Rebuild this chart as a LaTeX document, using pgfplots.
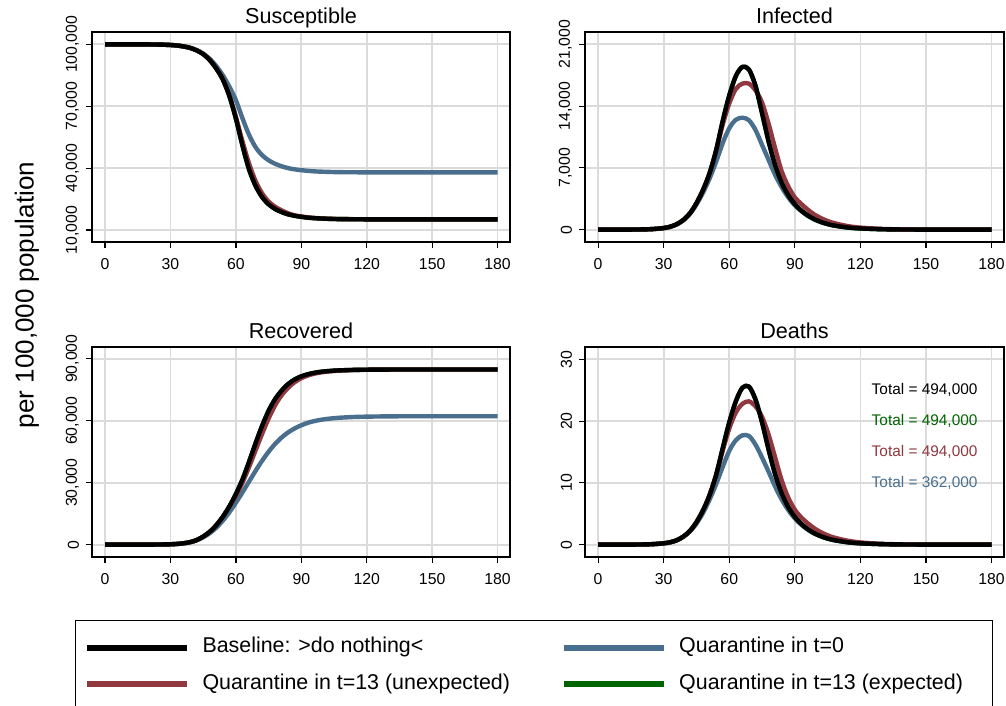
\documentclass[border=0pt]{standalone}
\usepackage{pgfplots}
\usepackage{pgfplotstable}
\pgfplotsset{compat=1.18}
\usepackage{fontspec}
\setmainfont{Liberation Sans}

\definecolor{qblue}{RGB}{74,110,142}
\definecolor{qred}{RGB}{144,56,62}
\definecolor{qgreen}{RGB}{0,100,0}

% t, baseline, quarantine t=13 (unexpected), quarantine t=0
\pgfplotstableread{
t base uq qz
0 100000 100000 100000
5 99998 99998 99998
10 99995 99995 99995
15 99990 99990 99990
20 99970 99970 99970
25 99900 99900 99900
30 99700 99700 99700
33 99450 99450 99450
36 99000 99000 99000
39 98300 98300 98350
42 97100 97100 97200
45 95300 95300 95500
48 92400 92400 93000
51 88300 88300 89500
54 83000 83000 85000
57 75000 75200 79500
60 64000 64800 72900
63 51000 53000 64200
66 39500 42300 56200
69 31500 33800 50200
72 26000 27800 46300
75 22500 23800 43800
78 20200 21300 42100
81 18700 19500 40900
84 17600 18100 40000
87 16900 17100 39400
90 16400 16550 39000
93 16000 16150 38700
96 15750 15850 38450
99 15600 15650 38300
102 15450 15500 38200
105 15350 15400 38100
108 15300 15330 38050
114 15230 15250 38000
120 15200 15210 37970
130 15170 15180 37950
140 15160 15160 37950
150 15150 15150 37950
160 15150 15150 37950
170 15150 15150 37950
180 15150 15150 37950
}\tabS

\pgfplotstableread{
t base uq qz
0 1 1 1
5 2 2 2
10 4 4 4
15 10 10 10
20 25 25 25
25 65 65 65
30 180 180 175
33 330 330 320
36 620 620 600
39 1100 1100 1060
42 1850 1850 1780
45 3000 3000 2850
48 4500 4500 4200
51 6400 6400 5800
54 9000 8950 7700
57 12300 11900 9800
60 15200 14300 11500
63 17400 15950 12450
66 18450 16550 12690
69 18150 16550 12400
72 16300 15800 11300
75 13200 14400 9600
78 10000 12000 7900
81 7300 9200 6200
84 5300 6600 4800
87 3900 4900 3650
90 2900 3650 2750
93 2150 2900 2100
96 1600 2250 1550
99 1180 1700 1150
102 870 1300 850
105 640 980 620
108 470 740 460
114 255 410 250
120 140 230 135
130 50 80 50
140 18 30 18
150 7 11 7
160 2 4 2
170 1 1 1
180 0 0 0
}\tabI

\pgfplotstableread{
t base uq qz
0 0 0 0
5 0 0 0
10 2 2 2
15 5 5 5
20 15 15 15
25 50 50 50
30 160 160 155
33 330 330 310
36 650 650 610
39 1200 1200 1120
42 2200 2200 2050
45 3900 3900 3500
48 6200 6200 5500
51 9400 9400 8200
54 13500 13400 11600
57 18500 18300 15700
60 24500 23700 20300
63 31500 30000 25300
66 40000 37500 30500
69 49000 45600 35700
72 57500 53600 40600
75 64800 61100 45000
78 70500 67500 48800
81 74600 72400 51900
84 77800 76000 54400
87 80000 78700 56300
90 81500 80600 57800
93 82500 81900 59000
96 83200 82800 59840
99 83700 83400 60450
102 84000 83800 60900
105 84250 84100 61230
108 84400 84300 61480
114 84600 84550 61800
120 84700 84680 61970
130 84780 84770 62110
140 84800 84800 62160
150 84800 84800 62170
160 84800 84800 62170
170 84800 84800 62170
180 84800 84800 62170
}\tabR

\pgfplotstableread{
t base uq qz
0 0 0 0
5 0 0 0
10 0.01 0.01 0.01
15 0.01 0.01 0.01
20 0.03 0.03 0.03
25 0.08 0.08 0.08
30 0.22 0.22 0.21
33 0.39 0.39 0.38
36 0.72 0.72 0.70
39 1.31 1.31 1.26
42 2.22 2.22 2.14
45 3.64 3.64 3.41
48 5.56 5.56 5.14
51 8.02 8.02 7.3
54 11.3 11.3 9.8
57 15.6 15.2 12.6
60 19.8 18.8 15.2
63 23.2 21.4 16.9
66 25.4 22.8 17.7
69 25.6 23.2 17.6
72 23.5 22.4 16.2
75 19.8 20.7 14.1
78 15.4 17.8 11.8
81 11.4 14.1 9.4
84 8.3 10.4 7.3
87 6.07 7.6 5.6
90 4.49 5.66 4.24
93 3.34 4.38 3.22
96 2.48 3.43 2.4
99 1.83 2.62 1.78
102 1.36 1.99 1.32
105 1.0 1.51 0.97
108 0.74 1.14 0.71
114 0.40 0.65 0.39
120 0.22 0.36 0.2
130 0.08 0.12 0.08
140 0.03 0.05 0.03
150 0.01 0.02 0.01
160 0 0.01 0
170 0 0 0
180 0 0 0
}\tabD

\pgfplotsset{
  panel/.style={
    scale only axis, width=209pt, height=105pt,
    xmin=-6, xmax=185.7, xtick={0,30,...,180},
    xtick pos=bottom, ytick pos=left,
    tick align=outside, major tick length=3pt,
    grid=major, major grid style={line width=0.9pt, black!14},
    axis line style={line width=0.6pt},
    tick style={line width=0.6pt, black},
    tick label style={font=\fontsize{7.9}{9}\selectfont},
    xticklabel style={yshift=-1.5pt},
    yticklabel style={rotate=90, anchor=south},
    scaled y ticks=false,
    /pgf/number format/.cd, fixed, 1000 sep={{,}}, assume math mode=true,
    /pgfplots/.cd,
    every axis title shift=0pt,
    title style={font=\fontsize{10.8}{12}\selectfont, anchor=base, at={(0.5,1)}, yshift=4.4pt},
    every axis plot/.append style={line width=2.2pt, smooth, line join=round},
  },
}

\begin{document}
\begin{tikzpicture}
\useasboundingbox (0,0) rectangle (503pt,-353pt);

\node[rotate=90, anchor=base, font=\fontsize{13}{15}\selectfont] at (16.8pt,-147.5pt) {per 100,000 population};

\begin{axis}[panel, at={(46pt,-16pt)}, anchor=north west,
  title={Susceptible}, ymin=4200, ymax=106000, ytick={10000,40000,70000,100000}]
  \addplot[qblue] table[x=t,y=qz]{\tabS};
  \addplot[qgreen] table[x=t,y=base]{\tabS};
  \addplot[qred] table[x=t,y=uq]{\tabS};
  \addplot[black] table[x=t,y=base]{\tabS};
\end{axis}

\begin{axis}[panel, width=209.5pt, at={(292.5pt,-16pt)}, anchor=north west,
  title={Infected}, ymin=-1400, ymax=22400, ytick={0,7000,14000,21000}]
  \addplot[qblue] table[x=t,y=qz]{\tabI};
  \addplot[qgreen] table[x=t,y=base]{\tabI};
  \addplot[qred] table[x=t,y=uq]{\tabI};
  \addplot[black] table[x=t,y=base]{\tabI};
\end{axis}

\begin{axis}[panel, at={(46pt,-173.5pt)}, anchor=north west,
  title={Recovered}, ymin=-6000, ymax=95700, ytick={0,30000,60000,90000}]
  \addplot[qblue] table[x=t,y=qz]{\tabR};
  \addplot[qgreen] table[x=t,y=base]{\tabR};
  \addplot[qred] table[x=t,y=uq]{\tabR};
  \addplot[black] table[x=t,y=base]{\tabR};
\end{axis}

\begin{axis}[panel, width=209.5pt, at={(292.5pt,-173.5pt)}, anchor=north west,
  title={Deaths}, ymin=-2, ymax=32, ytick={0,10,20,30}]
  \addplot[qblue] table[x=t,y=qz]{\tabD};
  \addplot[qgreen] table[x=t,y=base]{\tabD};
  \addplot[qred] table[x=t,y=uq]{\tabD};
  \addplot[black] table[x=t,y=base]{\tabD};
  \begin{scope}[every node/.style={anchor=west, inner sep=0pt, font=\fontsize{7.7}{9}\selectfont}]
    \node[text=black] at (axis cs:125,25) {Total = 494,000};
    \node[text=qgreen] at (axis cs:125,20) {Total = 494,000};
    \node[text=qred] at (axis cs:125,15) {Total = 494,000};
    \node[text=qblue] at (axis cs:125,10) {Total = 362,000};
  \end{scope}
\end{axis}

\begin{axis}[at={(37.5pt,-310pt)}, anchor=north west, hide axis,
  scale only axis, width=10pt, height=10pt, xmin=0, xmax=1, ymin=0, ymax=1,
  legend columns=2, legend cell align=left,
  legend image code/.code={\draw[#1, line width=3pt] (0pt,0pt) -- (50pt,0pt);},
  legend style={at={(0,1)}, anchor=north west, draw=black, line width=0.6pt,
    inner xsep=4.35pt, inner ysep=8.6pt, row sep=8.1pt,
    font=\fontsize{10.7}{12}\selectfont,
    nodes={inner sep=0pt, text height=0.75em, text depth=0.25em},
    /tikz/every odd column/.append style={column sep=6.1pt},
    /tikz/every even column/.append style={column sep=25.5pt}}]
  \addlegendimage{black}
  \addlegendentry{Baseline: >do nothing<}
  \addlegendimage{qblue}
  \addlegendentry{Quarantine in t=0}
  \addlegendimage{qred}
  \addlegendentry{Quarantine in t=13 (unexpected)}
  \addlegendimage{qgreen}
  \addlegendentry{Quarantine in t=13 (expected)\hspace*{10.5pt}}
\end{axis}
\end{tikzpicture}
\end{document}
